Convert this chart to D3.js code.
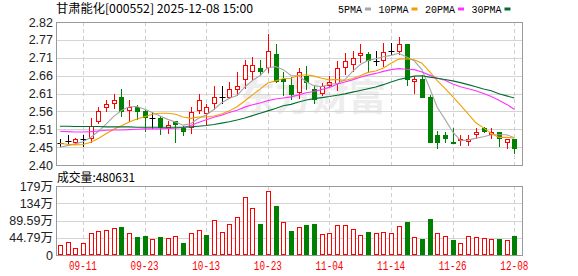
<!DOCTYPE html>
<html>
<head>
<meta charset="utf-8">
<script src="https://cdn.jsdelivr.net/npm/d3@7"></script>
<style>
    body { margin: 0; background: #fff; }
    svg { display: block; }
</style>
</head>
<body>
<script>
const title = "甘肃能化[000552] 2025-12-08 15:00";

const dates = ["09-08", "09-09", "09-10", "09-11", "09-12", "09-15", "09-16", "09-17", "09-18", "09-19",
    "09-22", "09-23", "09-24", "09-25", "09-26", "09-29", "09-30", "10-09", "10-10", "10-13",
    "10-14", "10-15", "10-16", "10-17", "10-20", "10-21", "10-22", "10-23", "10-24", "10-27",
    "10-28", "10-29", "10-30", "10-31", "11-03", "11-04", "11-05", "11-06", "11-07", "11-10",
    "11-11", "11-12", "11-13", "11-14", "11-17", "11-18", "11-19", "11-20", "11-21", "11-24",
    "11-25", "11-26", "11-27", "11-28", "12-01", "12-02", "12-03", "12-04", "12-05", "12-08"];

const opens = [2.466, 2.471, 2.468, 2.475, 2.480, 2.530, 2.571, 2.581, 2.599, 2.562,
    2.569, 2.560, 2.537, 2.539, 2.511, 2.528, 2.509, 2.512, 2.562, 2.552,
    2.581, 2.599, 2.600, 2.623, 2.654, 2.677, 2.684, 2.688, 2.726, 2.653,
    2.635, 2.614, 2.660, 2.622, 2.612, 2.636, 2.642, 2.688, 2.696, 2.723,
    2.726, 2.706, 2.708, 2.736, 2.736, 2.755, 2.647, 2.653, 2.601, 2.488,
    2.488, 2.469, 2.473, 2.470, 2.491, 2.508, 2.491, 2.497, 2.468, 2.476];
const highs = [2.477, 2.489, 2.479, 2.487, 2.538, 2.569, 2.590, 2.610, 2.624, 2.591,
    2.577, 2.562, 2.556, 2.545, 2.528, 2.530, 2.514, 2.569, 2.610, 2.580,
    2.632, 2.632, 2.645, 2.673, 2.707, 2.716, 2.707, 2.785, 2.755, 2.674,
    2.659, 2.686, 2.692, 2.635, 2.642, 2.661, 2.705, 2.728, 2.735, 2.755,
    2.733, 2.735, 2.757, 2.757, 2.777, 2.755, 2.661, 2.663, 2.606, 2.499,
    2.498, 2.508, 2.488, 2.488, 2.510, 2.512, 2.508, 2.498, 2.476, 2.476];
const lows = [2.457, 2.458, 2.461, 2.456, 2.467, 2.522, 2.560, 2.568, 2.545, 2.529,
    2.536, 2.500, 2.510, 2.492, 2.494, 2.468, 2.488, 2.495, 2.552, 2.518,
    2.565, 2.583, 2.596, 2.607, 2.625, 2.652, 2.664, 2.674, 2.645, 2.606,
    2.594, 2.597, 2.623, 2.581, 2.605, 2.629, 2.620, 2.666, 2.677, 2.703,
    2.674, 2.694, 2.691, 2.726, 2.726, 2.634, 2.612, 2.601, 2.468, 2.449,
    2.469, 2.467, 2.459, 2.458, 2.480, 2.497, 2.478, 2.457, 2.449, 2.436];
const closes = [2.466, 2.471, 2.476, 2.475, 2.515, 2.558, 2.578, 2.591, 2.560, 2.569,
    2.560, 2.542, 2.537, 2.511, 2.518, 2.520, 2.500, 2.557, 2.591, 2.569,
    2.599, 2.599, 2.622, 2.632, 2.693, 2.694, 2.675, 2.735, 2.647, 2.648,
    2.609, 2.673, 2.643, 2.593, 2.631, 2.645, 2.684, 2.704, 2.713, 2.728,
    2.708, 2.706, 2.733, 2.736, 2.755, 2.653, 2.653, 2.601, 2.468, 2.468,
    2.478, 2.468, 2.476, 2.476, 2.497, 2.500, 2.496, 2.478, 2.476, 2.449];

const ma5 = [2.452, 2.457, 2.462, 2.468, 2.481, 2.499, 2.520, 2.543, 2.560, 2.571,
    2.572, 2.564, 2.554, 2.544, 2.534, 2.526, 2.517, 2.521, 2.537, 2.547,
    2.563, 2.583, 2.596, 2.604, 2.629, 2.648, 2.663, 2.686, 2.689, 2.680,
    2.663, 2.662, 2.644, 2.633, 2.630, 2.637, 2.639, 2.651, 2.675, 2.695,
    2.707, 2.712, 2.718, 2.722, 2.728, 2.717, 2.706, 2.680, 2.626, 2.569,
    2.534, 2.497, 2.472, 2.473, 2.479, 2.483, 2.489, 2.489, 2.489, 2.480];
const ma10 = [2.463, 2.461, 2.459, 2.460, 2.467, 2.478, 2.492, 2.505, 2.515, 2.526,
    2.535, 2.542, 2.549, 2.552, 2.552, 2.549, 2.541, 2.537, 2.541, 2.541,
    2.544, 2.550, 2.559, 2.571, 2.588, 2.606, 2.623, 2.641, 2.647, 2.654,
    2.655, 2.663, 2.665, 2.661, 2.655, 2.650, 2.651, 2.648, 2.654, 2.662,
    2.672, 2.676, 2.685, 2.699, 2.711, 2.712, 2.709, 2.699, 2.674, 2.648,
    2.625, 2.601, 2.576, 2.550, 2.524, 2.509, 2.493, 2.481, 2.481, 2.479];
const ma20 = [2.499, 2.498, 2.497, 2.497, 2.498, 2.500, 2.502, 2.503, 2.503, 2.504,
    2.505, 2.506, 2.506, 2.506, 2.507, 2.508, 2.510, 2.516, 2.525, 2.533,
    2.540, 2.546, 2.554, 2.561, 2.570, 2.577, 2.582, 2.589, 2.594, 2.597,
    2.600, 2.606, 2.612, 2.616, 2.622, 2.628, 2.637, 2.644, 2.650, 2.658,
    2.664, 2.669, 2.675, 2.680, 2.683, 2.681, 2.680, 2.673, 2.664, 2.655,
    2.649, 2.638, 2.630, 2.624, 2.618, 2.610, 2.601, 2.590, 2.578, 2.564];
const ma30 = [2.514, 2.514, 2.513, 2.513, 2.513, 2.513, 2.512, 2.512, 2.512, 2.512,
    2.511, 2.511, 2.511, 2.511, 2.511, 2.511, 2.511, 2.512, 2.514, 2.516,
    2.519, 2.523, 2.527, 2.532, 2.538, 2.545, 2.552, 2.559, 2.566, 2.574,
    2.578, 2.585, 2.591, 2.595, 2.598, 2.601, 2.605, 2.609, 2.614, 2.619,
    2.624, 2.629, 2.636, 2.644, 2.651, 2.656, 2.661, 2.662, 2.658, 2.655,
    2.651, 2.647, 2.642, 2.636, 2.630, 2.623, 2.618, 2.609, 2.603, 2.597];

const volumes = [252000, 330000, 173000, 303000, 563000, 615000, 640000, 692000, 727000, 563000,
    467000, 495000, 415000, 467000, 441000, 493000, 312000, 563000, 649000, 519000,
    909000, 589000, 796000, 978000, 1498000, 1212000, 805000, 1662000, 1272000, 857000,
    631000, 719000, 779000, 805000, 537000, 563000, 771000, 771000, 667000, 511000,
    597000, 563000, 589000, 563000, 745000, 857000, 460000, 407000, 935000, 563000,
    485000, 390000, 303000, 485000, 460000, 434000, 407000, 407000, 390000, 480631];
// 1 = red (up) volume bar, 0 = green
const volUp = [1, 1, 1, 1, 1, 1, 1, 1, 0, 1,
    0, 0, 1, 0, 1, 1, 0, 1, 1, 0,
    1, 1, 1, 1, 1, 1, 0, 1, 0, 1,
    0, 1, 0, 0, 1, 1, 1, 1, 1, 1,
    0, 1, 1, 1, 1, 0, 1, 0, 0, 1,
    1, 0, 1, 1, 1, 1, 1, 0, 1, 0];

const priceTicks = [2.40, 2.4525, 2.505, 2.5575, 2.61, 2.6625, 2.715, 2.7675, 2.82];
const priceLabels = ["2.40", "2.45", "2.51", "2.56", "2.61", "2.66", "2.71", "2.77", "2.82"];
const volTicks = [0, 447950, 895900, 1343850, 1791800];
const volLabels = ["0", "44.79万", "89.59万", "134万", "179万"];
const dateTicks = ["09-11", "09-23", "10-13", "10-23", "11-04", "11-14", "11-26", "12-08"];

const maNames = ["5PMA", "10PMA", "20PMA", "30PMA"];
const maColors = ["#a6a6a6", "#f2a000", "#ff33ff", "#006e32"];
const maSeries = [ma5, ma10, ma20, ma30];

run();

function run() {
    let width = 578, height = 276;
    let left = 56, right = 522;
    let pTop = 22, pBottom = 165;
    let vTop = 186, vBottom = 255;

    let svg = d3.select("body").append("svg")
        .attr("width", width)
        .attr("height", height)
        .style("font-family", "'Liberation Sans', 'Noto Sans CJK SC', sans-serif");

    let x = d3.scaleBand().domain(dates).range([left, 518.2]);
    let y = d3.scaleLinear().domain([2.40, 2.82]).range([pBottom, pTop]);
    let yv = d3.scaleLinear().domain([0, 1791800]).range([vBottom, vTop]);

    let cx = function (i) { return Math.round(x(dates[i]) + x.bandwidth() / 2) + 0.5; };
    let snap = function (v) { return Math.round(v) + 0.5; };

    // watermark
    svg.append("text")
        .attr("x", 238)
        .attr("y", 111)
        .attr("font-size", 37)
        .attr("font-weight", "bold")
        .attr("font-family", "'Noto Sans CJK SC', sans-serif")
        .attr("fill", "#ededed")
        .text("东方财富");

    // horizontal grid
    svg.append("g").selectAll("line")
        .data(priceTicks.slice(1, -1))
        .enter().append("line")
        .attr("x1", left).attr("x2", right)
        .attr("y1", function (d) { return snap(y(d)); })
        .attr("y2", function (d) { return snap(y(d)); })
        .attr("stroke", "#d4d4d4");
    svg.append("g").selectAll("line")
        .data(volTicks.slice(1, -1))
        .enter().append("line")
        .attr("x1", left).attr("x2", right)
        .attr("y1", function (d) { return snap(yv(d)); })
        .attr("y2", function (d) { return snap(yv(d)); })
        .attr("stroke", "#d4d4d4");

    // vertical dashed grid
    let vx = function (d) { return cx(dates.indexOf(d)); };
    [[pTop, pBottom], [vTop, vBottom]].forEach(function (r) {
        svg.append("g").selectAll("line")
            .data(dateTicks)
            .enter().append("line")
            .attr("x1", vx).attr("x2", vx)
            .attr("y1", r[0]).attr("y2", r[1])
            .attr("stroke", "#cfcfcf")
            .attr("stroke-dasharray", "4,3");
    });

    // frames
    [[pTop, pBottom], [vTop, vBottom]].forEach(function (r) {
        svg.append("rect")
            .attr("x", left + 0.5).attr("y", snap(r[0]))
            .attr("width", right - left).attr("height", Math.round(r[1]) - Math.round(r[0]))
            .attr("fill", "none")
            .attr("stroke", "#9a9a9a");
    });

    // candles
    let candles = svg.append("g").selectAll("g")
        .data(dates.map(function (d, i) { return i; }))
        .enter().append("g");

    let candleColor = function (i) {
        if (closes[i] > opens[i]) return "#ff0000";
        if (closes[i] < opens[i]) return "#008000";
        return "#000000";
    };

    candles.append("line")
        .attr("x1", cx).attr("x2", cx)
        .attr("y1", function (i) { return Math.round(y(highs[i])); })
        .attr("y2", function (i) { return Math.round(y(lows[i])) + 1; })
        .attr("stroke", candleColor);

    candles.filter(function (i) { return closes[i] !== opens[i]; })
        .append("rect")
        .attr("x", function (i) { return cx(i) - 2; })
        .attr("y", function (i) { return snap(y(Math.max(opens[i], closes[i]))); })
        .attr("width", 4)
        .attr("height", function (i) {
            return Math.max(1, Math.round(y(Math.min(opens[i], closes[i]))) - Math.round(y(Math.max(opens[i], closes[i]))));
        })
        .attr("fill", function (i) { return closes[i] > opens[i] ? "#ffffff" : "#008000"; })
        .attr("stroke", candleColor);

    candles.filter(function (i) { return closes[i] === opens[i]; })
        .append("line")
        .attr("x1", function (i) { return cx(i) - 3; })
        .attr("x2", function (i) { return cx(i) + 3; })
        .attr("y1", function (i) { return snap(y(closes[i])); })
        .attr("y2", function (i) { return snap(y(closes[i])); })
        .attr("stroke", "#000000");

    // moving averages
    maSeries.forEach(function (s, k) {
        let line = d3.line()
            .x(function (d, i) { return x(dates[i]) + x.bandwidth() / 2; })
            .y(function (d) { return y(d); });
        svg.append("path")
            .datum(s)
            .attr("d", line)
            .attr("fill", "none")
            .attr("stroke", maColors[k])
            .attr("stroke-width", 1.1);
    });

    // volume bars
    svg.append("g").selectAll("rect")
        .data(volumes)
        .enter().append("rect")
        .attr("x", function (d, i) { return cx(i) - 2; })
        .attr("y", function (d) { return snap(yv(d)); })
        .attr("width", 4)
        .attr("height", function (d) { return vBottom - 0.5 - snap(yv(d)); })
        .attr("fill", function (d, i) { return volUp[i] ? "#ffffff" : "#008000"; })
        .attr("stroke", function (d, i) { return volUp[i] ? "#ff0000" : "#008000"; });

    // axes
    let yAxis = svg.append("g")
        .attr("transform", "translate(" + (left - 3) + ",0)")
        .call(d3.axisLeft(y).tickValues(priceTicks)
            .tickFormat(function (d, i) { return priceLabels[i]; })
            .tickSize(0).tickPadding(0));
    let vAxis = svg.append("g")
        .attr("transform", "translate(" + (left - 3) + ",0)")
        .call(d3.axisLeft(yv).tickValues(volTicks)
            .tickFormat(function (d, i) { return volLabels[i]; })
            .tickSize(0).tickPadding(0));
    [yAxis, vAxis].forEach(function (g) {
        g.select(".domain").remove();
        g.selectAll("text")
            .attr("font-size", 12.5)
            .attr("font-family", "'Liberation Sans', 'Noto Sans CJK SC', sans-serif")
            .attr("fill", "#222");
    });

    let xAxis = svg.append("g")
        .attr("transform", "translate(0," + vBottom + ")")
        .call(d3.axisBottom(x).tickValues(dateTicks).tickSize(0).tickPadding(6.5));
    xAxis.select(".domain").remove();
    xAxis.selectAll("text")
        .attr("font-size", 12)
        .attr("font-family", "'Liberation Mono', monospace")
        .attr("fill", "#ff0000")
        .attr("textLength", 28)
        .attr("lengthAdjust", "spacingAndGlyphs");

    // title and volume caption
    svg.append("text")
        .attr("x", left)
        .attr("y", 13)
        .attr("font-size", 12)
        .attr("font-family", "'Noto Sans CJK SC', sans-serif")
        .attr("fill", "#000")
        .attr("textLength", 197)
        .attr("lengthAdjust", "spacingAndGlyphs")
        .text(title);
    svg.append("text")
        .attr("x", 57)
        .attr("y", 181.5)
        .attr("font-size", 12)
        .attr("font-family", "'Noto Sans CJK SC', sans-serif")
        .attr("fill", "#000")
        .attr("textLength", 78)
        .attr("lengthAdjust", "spacingAndGlyphs")
        .text("成交量:" + volumes[volumes.length - 1]);

    // legend
    let lx = 338;
    maNames.forEach(function (name, k) {
        let w = name.length * 6;
        svg.append("text")
            .attr("x", lx).attr("y", 12.5)
            .attr("font-size", 11.5)
            .attr("font-family", "'Liberation Mono', monospace")
            .attr("textLength", w)
            .attr("lengthAdjust", "spacingAndGlyphs")
            .attr("fill", "#000")
            .text(name);
        svg.append("rect")
            .attr("x", lx + w + 3).attr("y", 7.5)
            .attr("width", 6).attr("height", 3)
            .attr("fill", maColors[k]);
        lx += w + 3 + 6 + 7.5;
    });
}
</script>
</body>
</html>
